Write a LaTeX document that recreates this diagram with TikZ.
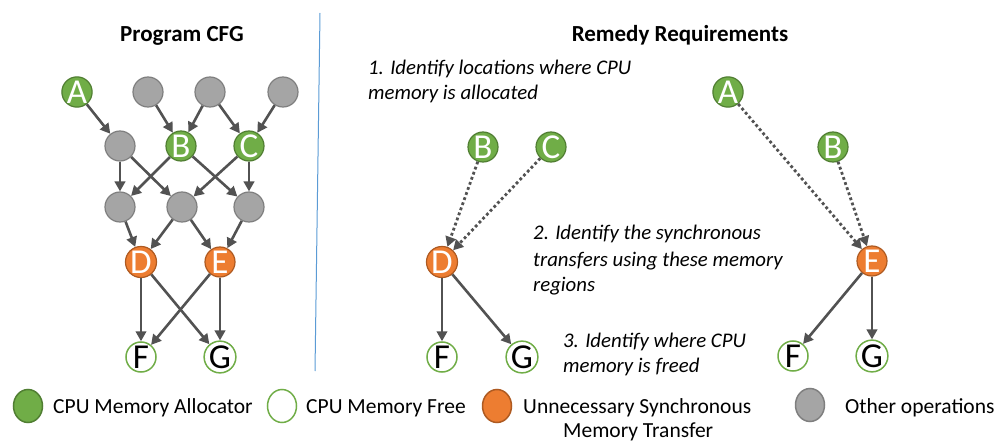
\documentclass[tikz,border=0pt]{standalone}
\usepackage{fontspec}
\setmainfont{Carlito}
\usetikzlibrary{arrows.meta,shapes.geometric}
\definecolor{cgreen}{HTML}{70AD47}
\definecolor{cgreend}{HTML}{507E32}
\definecolor{corange}{HTML}{ED7D31}
\definecolor{coranged}{HTML}{AE5A21}
\definecolor{cgray}{HTML}{A5A5A5}
\definecolor{cgrayd}{HTML}{7F7F7F}
\definecolor{cedge}{HTML}{525252}
\definecolor{cblue}{HTML}{5B9BD5}
\tikzset{
  cnode/.style={circle, minimum size=30pt, inner sep=0pt, line width=1.2pt, font=\fontsize{35}{35}\selectfont},
  alloc/.style={cnode, fill=cgreen, draw=cgreend, text=white},
  freen/.style={cnode, fill=white, draw=cgreen, line width=1.5pt, text=black},
  sync/.style={cnode, fill=corange, draw=coranged, text=white},
  other/.style={cnode, fill=cgray, draw=cgrayd},
  arr/.style={draw=cedge, line width=2.6pt, -{Triangle[length=10pt,width=10.5pt]}},
  dotarr/.style={arr, line width=2.8pt, dash pattern=on 2.8pt off 2.6pt},
  ttl/.style={font=\bfseries\fontsize{23}{27}\selectfont, anchor=base},
  step txt/.style={font=\itshape\fontsize{20.8}{25}\selectfont, anchor=base west, inner sep=0pt},
  legtxt/.style={font=\fontsize{21.5}{25}\selectfont, anchor=base west, inner sep=0pt},
  legmark/.style={ellipse, minimum width=29pt, minimum height=33pt, inner sep=0pt, line width=1.5pt},
}
\begin{document}
\begin{tikzpicture}[x=1pt,y=-1pt]
\path[use as bounding box] (0,0) rectangle (997,441);

% titles
\node[ttl] (t1) at (182,42) {Program CFG};
\node[ttl] (t2) at (680,42) {Remedy Requirements};

% divider
\coordinate (d1) at (320,13);
\coordinate (d2) at (315,371);
\draw[cblue, line width=1pt] (d1) -- (d2);

% ---- Program CFG ----
\node[alloc] (A) at (77,92) {A};
\node[other] (g1) at (148,92) {};
\node[other] (g2) at (210,92) {};
\node[other] (g3) at (283,92) {};
\node[other] (g4) at (120,146) {};
\node[alloc] (B) at (181,146) {B};
\node[alloc] (C) at (249,146) {C};
\node[other] (g5) at (120,207) {};
\node[other] (g6) at (182,207) {};
\node[other] (g7) at (249,207) {};
\node[sync] (D) at (141,262) {D};
\node[sync] (E) at (220,262) {E};
\node[freen] (F) at (141,357) {F};
\node[freen] (G) at (220,357) {G};

\draw[arr] (A) -- (g4);
\draw[arr] (g1) -- (B);
\draw[arr] (g2) -- (B);
\draw[arr] (g2) -- (C);
\draw[arr] (g3) -- (C);
\draw[arr] (g4) -- (g5);
\draw[arr] (g4) -- (g6);
\draw[arr] (B) -- (g5);
\draw[arr] (B) -- (g7);
\draw[arr] (C) -- (g6);
\draw[arr] (C) -- (g7);
\draw[arr] (g5) -- (D);
\draw[arr] (g6) -- (D);
\draw[arr] (g6) -- (E);
\draw[arr] (g7) -- (E);
\draw[arr] (D) -- (F);
\draw[arr] (D) -- (G);
\draw[arr] (E) -- (F);
\draw[arr] (E) -- (G);

% ---- Remedy, middle ----
\node[alloc] (mB) at (483,147) {B};
\node[alloc] (mC) at (551,147) {C};
\node[sync] (mD) at (442,262) {D};
\node[freen] (mF) at (442,357) {F};
\node[freen] (mG) at (522,357) {G};
\draw[dotarr] (mB) -- (mD);
\draw[dotarr] (mC) -- (mD);
\draw[arr] (mD) -- (mF);
\draw[arr] (mD) -- (mG);

% ---- Remedy, right ----
\node[alloc] (rA) at (728,92) {A};
\node[alloc] (rB) at (833,147) {B};
\node[sync] (rE) at (872,261) {E};
\node[freen] (rF) at (793,356) {F};
\node[freen] (rG) at (872,356) {G};
\draw[dotarr] (rA) -- (rE);
\draw[dotarr] (rB) -- (rE);
\draw[arr] (rE) -- (rF);
\draw[arr] (rE) -- (rG);

% step texts
\node[step txt] (s1a) at (368,75) {1. Identify locations where CPU};
\node[step txt] (s1b) at (368,100) {memory is allocated};
\node[step txt] (s2a) at (533,240) {2. Identify the synchronous};
\node[step txt] (s2b) at (533,266) {transfers using these memory};
\node[step txt] (s2c) at (533,291) {regions};
\node[step txt] (s3a) at (563,347) {3. Identify where CPU};
\node[step txt] (s3b) at (563,372) {memory is freed};

% legend
\node[legmark, fill=cgreen, draw=cgreend] (l1) at (28,406) {};
\node[legtxt] (l1t) at (53,413) {CPU Memory Allocator};
\node[legmark, fill=white, draw=cgreen] (l2) at (282,406) {};
\node[legtxt] (l2t) at (306,413) {CPU Memory Free};
\node[legmark, fill=corange, draw=coranged] (l3) at (497,406) {};
\node[legtxt] (l3t) at (523,413) {Unnecessary Synchronous};
\node[legtxt] (l3u) at (563,437) {Memory Transfer};
\node[legmark, fill=cgray, draw=cgrayd] (l4) at (810,405) {};
\node[legtxt] (l4t) at (845,413) {Other operations};
\end{tikzpicture}
\end{document}
